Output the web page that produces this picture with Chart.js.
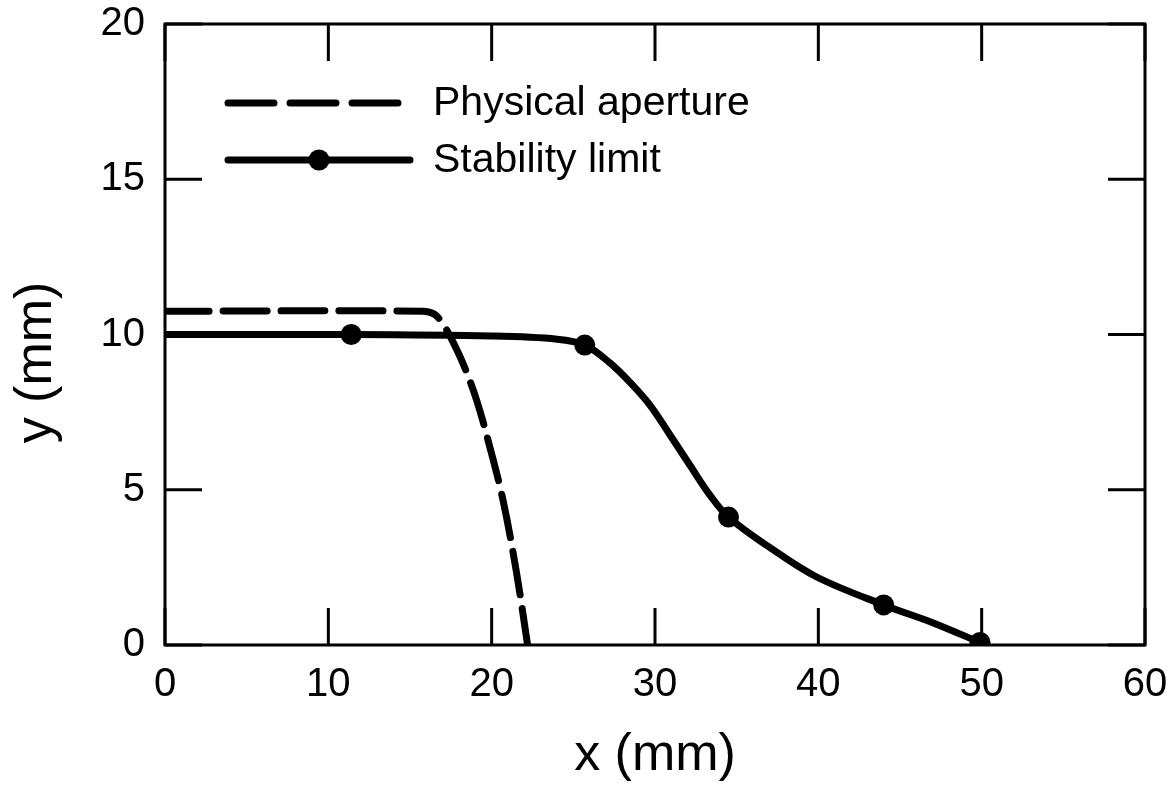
<!DOCTYPE html>
<html>
<head>
<meta charset="utf-8">
<script src="https://cdn.jsdelivr.net/npm/chart.js@4.4.1/dist/chart.umd.min.js"></script>
<style>
  html, body { margin: 0; padding: 0; background: #fff; }
  #wrap { width: 1174px; height: 787px; }
</style>
</head>
<body>
<div id="wrap"><canvas id="chart" width="1174" height="787"></canvas></div>
<script>
// values (x in mm, y in mm)
const apertureX = [0, 15.8, 16.5, 17.0, 17.5, 18.3, 19.1, 19.9, 20.7, 21.5, 22.2]
const apertureY = [10.75, 10.75, 10.65, 10.35, 9.9, 9.0, 7.85, 6.35, 4.65, 2.4, 0]

const stabilityX = [0, 11.4, 20, 24, 25.7, 27.25, 28.5, 29.7, 30.9, 32.15, 33.4, 34.5, 37, 39.9, 44.0, 47.0, 49.9]
const stabilityY = [10.0, 10.0, 9.95, 9.85, 9.66, 9.08, 8.44, 7.72, 6.78, 5.78, 4.8, 4.12, 3.15, 2.19, 1.29, 0.72, 0.08]
// which stability points carry a dot
const stabilityMarked = [false, true, false, false, true, false, false, false, false, false, false, true, false, false, true, false, true]

const xTicks = [0, 10, 20, 30, 40, 50, 60]
const yTicks = [0, 5, 10, 15, 20]

const legendLabels = ['Physical aperture', 'Stability limit']
const yTitle = 'y (mm)'

const FONT = "'Liberation Sans', Arial, Helvetica, sans-serif"

const toPoints = (xs, ys) => xs.map((x, i) => ({ x: x, y: ys[i] }))

// frame + inward ticks on all four sides, legend box and y title
const framePlugin = {
  id: 'frame',
  afterDatasetsDraw(chart) {
    const ctx = chart.ctx
    const a = chart.chartArea
    const xs = chart.scales.x
    const ys = chart.scales.y
    const tl = 37
    ctx.save()
    ctx.strokeStyle = '#000'
    ctx.lineWidth = 3
    ctx.strokeRect(a.left, a.top, a.right - a.left, a.bottom - a.top)
    ctx.beginPath()
    xTicks.forEach(v => {
      const px = xs.getPixelForValue(v)
      ctx.moveTo(px, a.bottom); ctx.lineTo(px, a.bottom - tl)
      ctx.moveTo(px, a.top); ctx.lineTo(px, a.top + tl)
    })
    yTicks.forEach(v => {
      const py = ys.getPixelForValue(v)
      ctx.moveTo(a.left, py); ctx.lineTo(a.left + tl, py)
      ctx.moveTo(a.right, py); ctx.lineTo(a.right - tl, py)
    })
    ctx.stroke()

    // legend
    const lx0 = a.left + 63, lx1 = a.left + 245, tx = a.left + 268
    const rows = [a.top + 79, a.top + 136]
    ctx.lineWidth = 7
    ctx.lineCap = 'round'
    ctx.setLineDash([46, 16])
    ctx.beginPath(); ctx.moveTo(lx0, rows[0]); ctx.lineTo(lx1, rows[0]); ctx.stroke()
    ctx.setLineDash([])
    ctx.beginPath(); ctx.moveTo(lx0, rows[1]); ctx.lineTo(lx1, rows[1]); ctx.stroke()
    ctx.beginPath(); ctx.arc((lx0 + lx1) / 2, rows[1], 10.5, 0, Math.PI * 2); ctx.fillStyle = '#000'; ctx.fill()
    ctx.font = '41px ' + FONT
    ctx.textBaseline = 'middle'
    ctx.textAlign = 'left'
    legendLabels.forEach((t, i) => ctx.fillText(t, tx, rows[i] + 1))

    // y axis title, sits a little below the axis middle in the original
    ctx.translate(37, (a.top + a.bottom) / 2 + 28)
    ctx.rotate(-Math.PI / 2)
    ctx.textAlign = 'center'
    ctx.font = '52px ' + FONT
    ctx.fillText(yTitle, 0, 0)
    ctx.restore()
  }
}

const config = {
  type: 'line',
  data: {
    datasets: [
      {
        label: legendLabels[0],
        data: toPoints(apertureX, apertureY),
        borderColor: '#000',
        borderWidth: 7,
        borderDash: [44, 14],
        borderCapStyle: 'round',
        pointRadius: 0,
        tension: 0.35,
        fill: false
      },
      {
        label: legendLabels[1],
        data: toPoints(stabilityX, stabilityY),
        borderColor: '#000',
        borderWidth: 7,
        pointRadius: stabilityMarked.map(m => m ? 10.5 : 0),
        pointBackgroundColor: '#000',
        pointBorderWidth: 0,
        tension: 0.35,
        fill: false
      }
    ]
  },
  options: {
    responsive: false,
    animation: false,
    layout: { padding: { top: 24, right: 29, left: 0, bottom: 0 } },
    plugins: {
      legend: { display: false },
      tooltip: { enabled: false }
    },
    scales: {
      x: {
        type: 'linear',
        min: 0, max: 60,
        afterFit: s => { s.height = 142; s.paddingLeft = 0; s.paddingRight = 0 },
        afterBuildTicks: s => { s.ticks = xTicks.map(v => ({ value: v })) },
        grid: { display: false, drawTicks: false },
        border: { display: false },
        ticks: { color: '#000', font: { family: FONT, size: 40 }, padding: 16 },
        title: {
          display: true, text: 'x (mm)', color: '#000',
          font: { family: FONT, size: 52 }, padding: { top: 0, bottom: 0 }
        }
      },
      y: {
        type: 'linear',
        min: 0, max: 20,
        afterFit: s => { s.width = 165; s.paddingTop = 0; s.paddingBottom = 0 },
        afterBuildTicks: s => { s.ticks = yTicks.map(v => ({ value: v })) },
        grid: { display: false, drawTicks: false },
        border: { display: false },
        ticks: { color: '#000', font: { family: FONT, size: 40 }, padding: 20 },
        title: { display: false }
      }
    }
  },
  plugins: [framePlugin]
}

const ctx = document.getElementById('chart')
window.myChart = new Chart(ctx, config)
</script>
</body>
</html>
